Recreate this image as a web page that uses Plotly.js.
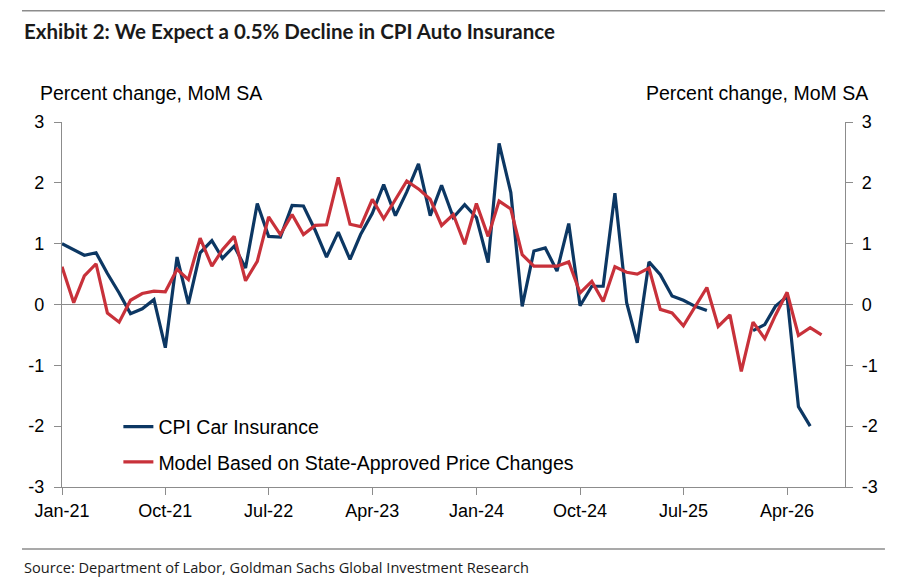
<!DOCTYPE html>
<html>
<head>
<meta charset="utf-8">
<script src="https://cdn.plot.ly/plotly-3.0.1.min.js"></script>
<style>
  html, body { margin: 0; padding: 0; background: #fff; }
  #chart { width: 900px; height: 583px; }
</style>
</head>
<body>
<div id="chart"></div>
<script>
// Months: Jan-21 .. Jul-26
const months = [
  '2021-01-01','2021-02-01','2021-03-01','2021-04-01','2021-05-01','2021-06-01',
  '2021-07-01','2021-08-01','2021-09-01','2021-10-01','2021-11-01','2021-12-01',
  '2022-01-01','2022-02-01','2022-03-01','2022-04-01','2022-05-01','2022-06-01',
  '2022-07-01','2022-08-01','2022-09-01','2022-10-01','2022-11-01','2022-12-01',
  '2023-01-01','2023-02-01','2023-03-01','2023-04-01','2023-05-01','2023-06-01',
  '2023-07-01','2023-08-01','2023-09-01','2023-10-01','2023-11-01','2023-12-01',
  '2024-01-01','2024-02-01','2024-03-01','2024-04-01','2024-05-01','2024-06-01',
  '2024-07-01','2024-08-01','2024-09-01','2024-10-01','2024-11-01','2024-12-01',
  '2025-01-01','2025-02-01','2025-03-01','2025-04-01','2025-05-01','2025-06-01',
  '2025-07-01','2025-08-01','2025-09-01','2025-10-01','2025-11-01','2025-12-01',
  '2026-01-01','2026-02-01','2026-03-01','2026-04-01','2026-05-01','2026-06-01',
  '2026-07-01'
];

// CPI Car Insurance, % MoM SA (gap where no data)
const cpiCarInsurance = [
  1.00, 0.90, 0.81, 0.85, 0.51, 0.19, -0.15, -0.07, 0.08, -0.71, 0.78, 0.01,
  0.85, 1.05, 0.76, 0.96, 0.60, 1.66, 1.12, 1.11, 1.63, 1.62, 1.22, 0.78,
  1.19, 0.74, 1.15, 1.50, 1.97, 1.46, 1.85, 2.31, 1.46, 1.96, 1.43, 1.64,
  1.43, 0.69, 2.65, 1.84, -0.03, 0.88, 0.93, 0.55, 1.33, -0.02, 0.30, 0.30,
  1.83, 0.03, -0.63, 0.70, 0.49, 0.14, 0.07, -0.03, -0.10, null, null, null,
  -0.43, -0.33, -0.03, 0.13, -1.68, -2.00, null
];

// Model Based on State-Approved Price Changes
const modelStateApproved = [
  0.62, 0.03, 0.47, 0.67, -0.14, -0.29, 0.07, 0.18, 0.22, 0.21, 0.58, 0.41,
  1.09, 0.63, 0.90, 1.12, 0.39, 0.71, 1.44, 1.15, 1.48, 1.15, 1.30, 1.31,
  2.09, 1.32, 1.28, 1.73, 1.41, 1.73, 2.03, 1.90, 1.73, 1.30, 1.48, 0.99,
  1.66, 1.12, 1.70, 1.57, 0.82, 0.63, 0.63, 0.63, 0.70, 0.19, 0.38, 0.05,
  0.62, 0.53, 0.50, 0.60, -0.08, -0.14, -0.35, -0.03, 0.28, -0.36, -0.17, -1.10,
  -0.29, -0.56, -0.18, 0.20, -0.51, -0.38, -0.50
];

const yTickVals = [-3, -2, -1, 0, 1, 2, 3];
const yTickText = ['-3', '-2', '-1', '0', '1', '2', '3'];

const seriesNames = ['CPI Car Insurance', 'Model Based on State-Approved Price Changes'];
const titleText = 'Exhibit 2: We Expect a 0.5% Decline in CPI Auto Insurance';
const unitText = 'Percent change, MoM SA';
const sourceText = 'Source: Department of Labor, Goldman Sachs Global Investment Research';

const BLUE = '#0c3763';
const RED = '#c8313a';
const AXIS = '#8c8c8c';
const FONT = 'Liberation Sans, Arial, sans-serif';

const traces = [
  {
    x: months, y: cpiCarInsurance, name: seriesNames[0], type: 'scatter', mode: 'lines',
    line: {color: BLUE, width: 3.2}, connectgaps: false, legendgroup: 'a'
  },
  {
    x: months, y: modelStateApproved, name: seriesNames[1], type: 'scatter', mode: 'lines',
    line: {color: RED, width: 3.2}, legendgroup: 'b'
  },
  {
    x: [months[0]], y: [null], yaxis: 'y2', showlegend: false, hoverinfo: 'skip',
    type: 'scatter', mode: 'lines'
  }
];

const yCommon = {
  range: [-3, 3], tickvals: yTickVals, ticktext: yTickText,
  showgrid: false, showline: true, linecolor: AXIS, linewidth: 1.2,
  ticks: 'outside', ticklen: 7, tickcolor: AXIS, tickwidth: 1,
  tickfont: {family: FONT, size: 18, color: '#000'},
  fixedrange: true
};

const layout = {
  width: 900, height: 583,
  paper_bgcolor: '#fff', plot_bgcolor: '#fff',
  margin: {l: 62, r: 55, t: 122, b: 96},
  showlegend: true,
  legend: {
    x: 0.072, y: 0.218, xanchor: 'left', yanchor: 'top',
    bgcolor: 'rgba(0,0,0,0)', tracegroupgap: 7,
    font: {family: FONT, size: 19.5, color: '#000'}
  },
  xaxis: {
    type: 'date', range: ['2021-01-01', '2026-09-01'],
    tickformat: '%b-%y', dtick: 'M9', tick0: '2021-01-01',
    showgrid: false, zeroline: false, showline: true, linecolor: AXIS, linewidth: 1.2,
    ticks: 'outside', ticklen: 7, tickcolor: AXIS,
    tickfont: {family: FONT, size: 18, color: '#000'}
  },
  yaxis: Object.assign({}, yCommon, {
    zeroline: true, zerolinecolor: AXIS, zerolinewidth: 1.2,
    ticklabelstandoff: 6
  }),
  yaxis2: Object.assign({}, yCommon, {
    overlaying: 'y', side: 'right', zeroline: false, ticklabelstandoff: 5
  }),
  shapes: [
    {type: 'line', xref: 'paper', yref: 'paper', x0: -0.0511, x1: 1.051,
     y0: 1.305, y1: 1.305, line: {color: AXIS, width: 1.5}},
    {type: 'line', xref: 'paper', yref: 'paper', x0: -0.0511, x1: 1.051,
     y0: -0.17, y1: -0.17, line: {color: AXIS, width: 1.5}}
  ],
  annotations: [
    {text: '<b>' + titleText + '</b>', xref: 'paper', yref: 'paper',
     x: -0.0511, y: 1.248, xanchor: 'left', yanchor: 'middle', showarrow: false,
     font: {family: 'Lato, Open Sans, sans-serif', size: 20.5, color: '#1a1a1a'}},
    {text: unitText, xref: 'paper', yref: 'paper', x: -0.0307, y: 1.079,
     xanchor: 'left', yanchor: 'middle', showarrow: false,
     font: {family: FONT, size: 19.5, color: '#000'}},
    {text: unitText, xref: 'paper', yref: 'paper', x: 1.032, y: 1.079,
     xanchor: 'right', yanchor: 'middle', showarrow: false,
     font: {family: FONT, size: 19.5, color: '#000'}},
    {text: sourceText, xref: 'paper', yref: 'paper', x: -0.0511, y: -0.22,
     xanchor: 'left', yanchor: 'middle', showarrow: false,
     font: {family: 'Open Sans, sans-serif', size: 14.6, color: '#1a1a1a'}}
  ]
};

Plotly.newPlot('chart', traces, layout, {displayModeBar: false, staticPlot: true});
</script>
</body>
</html>
